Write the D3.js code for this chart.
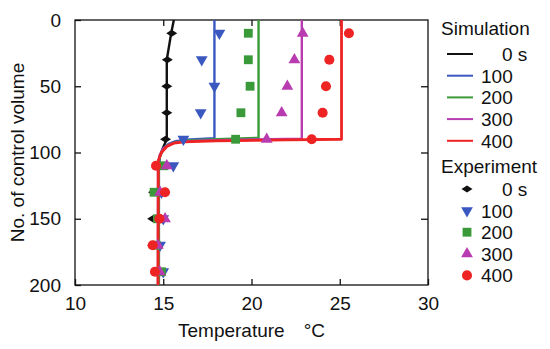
<!DOCTYPE html>
<html>
<head>
<meta charset="utf-8">
<script src="https://cdn.jsdelivr.net/npm/d3@7"></script>
<style>
  body{margin:0;background:#fff;}
  text{font-family:"Liberation Sans",Arial,Helvetica,sans-serif;fill:#111;}
</style>
</head>
<body>
<svg id="chart" width="550" height="349"></svg>
<script>
// simulation profiles [temperature, control volume]
const sim0 = [[15.6,0],[15.45,10],[15.2,30],[15.2,90],[15.0,96],[14.8,103],[14.75,110],[14.75,200]];
const sim100 = [[17.9,0],[17.9,89.3],[16.3,90.3],[15.7,91.5],[15.3,93.5],[15.0,97],[14.8,103],[14.75,110],[14.75,200]];
const sim200 = [[20.4,0],[20.4,89],[18,90],[16.2,91],[15.6,92.5],[15.2,95],[14.9,100],[14.75,106],[14.75,200]];
const sim300 = [[22.85,0],[22.85,89.5],[20,90.2],[17,91],[15.9,92],[15.4,93.5],[15.0,97],[14.8,102],[14.7,108],[14.7,200]];
const sim400 = [[25.1,0],[25.1,90],[22,90.5],[18,91.2],[16.2,92],[15.6,93],[15.2,95.5],[14.9,100],[14.72,106],[14.7,200]];

// experiment
const expCV = [10,30,50,70,90,110,130,150,170,190];
const exp0 = [15.48,15.23,15.2,15.2,15.13,14.8,14.45,14.4,14.4,14.7];
const exp100 = [18.18,17.18,17.9,17.12,16.14,15.57,14.9,15.0,14.82,15.0];
const exp200 = [19.82,19.82,19.92,19.4,19.1,15.04,14.48,14.67,14.6,14.9];
const exp300 = [22.9,22.43,22.03,21.71,20.86,15.2,14.82,15.1,14.7,14.8];
const exp400 = [25.52,24.41,24.22,24.03,23.41,14.59,15.1,14.78,14.4,14.53];

const seriesLabels = ["0 s","100","200","300","400"];
const colors = ["#111111","#3a58c0","#3a9a3a","#b83cb0","#ee2424"];
const xTicks = [10,15,20,25,30];
const yTicks = [0,50,100,150,200];

const svg = d3.select("#chart");
const mLeft=75, mRight=428, mTop=20, mBottom=285;

const x = d3.scaleLinear().domain([10,30]).range([mLeft,mRight]);
const y = d3.scaleLinear().domain([0,200]).range([mTop,mBottom]);

// frame
svg.append("rect").attr("x",mLeft).attr("y",mTop).attr("width",mRight-mLeft).attr("height",mBottom-mTop)
  .attr("fill","none").attr("stroke","#111").attr("stroke-width",1.3);

// axes, ticks pointing inward
svg.append("g").attr("transform",`translate(0,${mBottom})`)
  .call(d3.axisBottom(x).tickValues(xTicks).tickSize(-6).tickPadding(12))
  .call(g=>g.select(".domain").remove());
svg.append("g").attr("transform",`translate(0,${mTop})`)
  .call(d3.axisTop(x).tickValues(xTicks.slice(1,-1)).tickSize(-6).tickFormat(""))
  .call(g=>g.select(".domain").remove());
svg.append("g").attr("transform",`translate(${mLeft},0)`)
  .call(d3.axisLeft(y).tickValues(yTicks).tickSize(-6).tickPadding(14))
  .call(g=>g.select(".domain").remove());
svg.append("g").attr("transform",`translate(${mRight},0)`)
  .call(d3.axisRight(y).tickValues(yTicks.slice(1,-1)).tickSize(-7).tickFormat(""))
  .call(g=>g.select(".domain").remove());
svg.selectAll(".tick line").attr("stroke","#111").attr("stroke-width",1.3);
svg.selectAll(".tick text").attr("font-size",19).style("font-family","'Liberation Sans',Arial,sans-serif").attr("fill","#111");

// axis titles
svg.append("text").attr("x",(mLeft+mRight)/2).attr("y",337).attr("text-anchor","middle")
  .attr("font-size",19).text("Temperature\u2003°C");
svg.append("text").attr("transform",`translate(24,${(mTop+mBottom)/2}) rotate(-90)`)
  .attr("text-anchor","middle").attr("font-size",19).text("No. of control volume");

// simulation lines
const line = d3.line().x(d=>x(d[0])).y(d=>y(d[1]));
const sims = [sim0,sim100,sim200,sim300,sim400];
sims.forEach((s,i)=>{
  svg.append("path").datum(s).attr("d",line).attr("fill","none")
    .attr("stroke",colors[i]).attr("stroke-width",i===4?2.8:2.4).attr("stroke-linejoin","round");
});

// markers
const diamond = "M-5.5,0L0,-3.6L5.5,0L0,3.6Z";
const shapes = [
  ()=>diamond,
  ()=>d3.symbol(d3.symbolTriangle,60)(),
  ()=>d3.symbol(d3.symbolSquare,78)(),
  ()=>d3.symbol(d3.symbolTriangle,60)(),
  ()=>d3.symbol(d3.symbolCircle,80)()
];
const rot = [0,180,0,0,0];
const exps = [exp0,exp100,exp200,exp300,exp400];
exps.forEach((e,i)=>{
  svg.append("g").selectAll("path").data(e).join("path")
    .attr("d",shapes[i]())
    .attr("transform",(d,j)=>`translate(${x(d)},${y(expCV[j])}) rotate(${rot[i]})`)
    .attr("fill",colors[i]);
});

// legend
const lx = 441;
svg.append("text").attr("x",lx).attr("y",35).attr("font-size",19).text("Simulation");
seriesLabels.forEach((lab,i)=>{
  const ly = 54 + i*21.7;
  svg.append("line").attr("x1",447).attr("x2",473).attr("y1",ly).attr("y2",ly)
    .attr("stroke",colors[i]).attr("stroke-width",2);
  svg.append("text").attr("x",i===0?502:481).attr("y",ly+7).attr("font-size",19).text(lab);
});
svg.append("text").attr("x",lx).attr("y",173).attr("font-size",19).text("Experiment");
seriesLabels.forEach((lab,i)=>{
  const ly = 189 + i*21.6;
  svg.append("path").attr("d",shapes[i]())
    .attr("transform",`translate(467,${ly}) rotate(${rot[i]})`).attr("fill",colors[i]);
  svg.append("text").attr("x",i===0?502:481).attr("y",ly+7).attr("font-size",19).text(lab);
});
</script>
</body>
</html>
